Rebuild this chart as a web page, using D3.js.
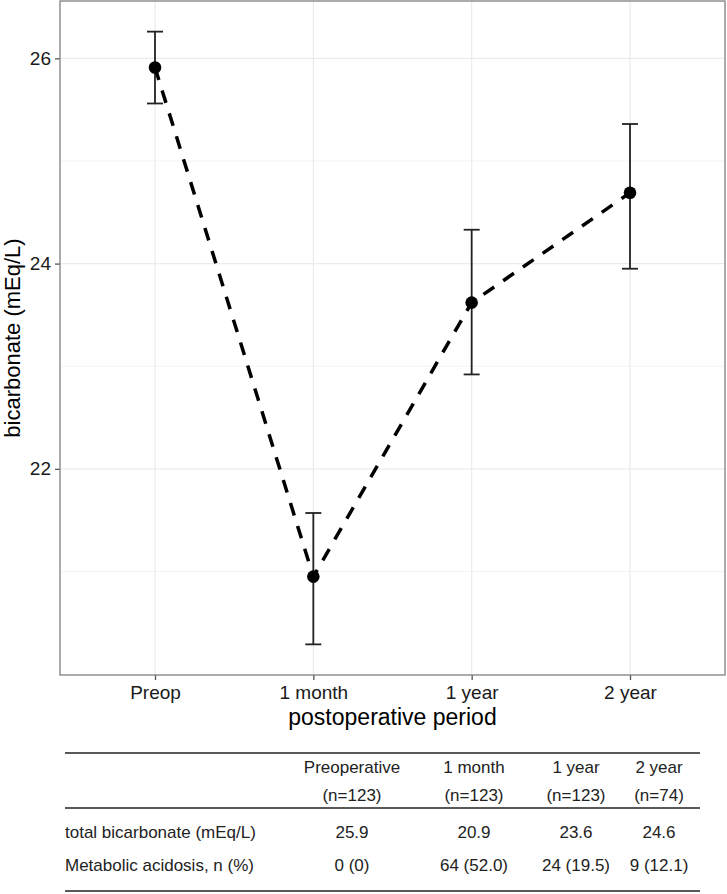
<!DOCTYPE html>
<html>
<head>
<meta charset="utf-8">
<script src="https://cdn.jsdelivr.net/npm/d3@7"></script>
<style>
  html, body { margin: 0; padding: 0; background: #fff; }
  svg { display: block; font-family: "Liberation Sans", Arial, Helvetica, sans-serif; }
</style>
</head>
<body>
<svg id="chart" width="727" height="894"></svg>
<script>
// ---- data ----
const periods = ["Preop", "1 month", "1 year", "2 year"];
const means = [25.91, 20.95, 23.62, 24.69];
const lower = [25.56, 20.29, 22.92, 23.95];
const upper = [26.26, 21.57, 24.33, 25.36];
const majorTicks = [22, 24, 26];
const minorTicks = [21, 23, 25];
const yTitle = "bicarbonate (mEq/L)";
const xTitle = "postoperative period";

const tableHeader1 = ["Preoperative", "1 month", "1 year", "2 year"];
const tableHeader2 = ["(n=123)", "(n=123)", "(n=123)", "(n=74)"];
const rowLabels = ["total bicarbonate (mEq/L)", "Metabolic acidosis, n (%)"];
const rowBicarb = ["25.9", "20.9", "23.6", "24.6"];
const rowAcidosis = ["0 (0)", "64 (52.0)", "24 (19.5)", "9 (12.1)"];

// ---- layout ----
const panel = { left: 60, top: 1, right: 725, bottom: 675 };
const svg = d3.select("#chart");

const x = d3.scalePoint().domain(periods).range([panel.left, panel.right]).padding(0.6);
const lo = d3.min(lower), hi = d3.max(upper), ex = (hi - lo) * 0.05;
const y = d3.scaleLinear().domain([lo - ex, hi + ex]).range([panel.bottom, panel.top]);

const data = periods.map((p, i) => ({ p, m: means[i], lo: lower[i], hi: upper[i] }));

// grid
const grid = svg.append("g");
grid.selectAll("line.minor").data(minorTicks).join("line")
  .attr("x1", panel.left).attr("x2", panel.right)
  .attr("y1", d => y(d)).attr("y2", d => y(d))
  .attr("stroke", "#f4f4f4").attr("stroke-width", 1);
grid.selectAll("line.major").data(majorTicks).join("line")
  .attr("x1", panel.left).attr("x2", panel.right)
  .attr("y1", d => y(d)).attr("y2", d => y(d))
  .attr("stroke", "#ebebeb").attr("stroke-width", 1.2);
grid.selectAll("line.vx").data(periods).join("line")
  .attr("x1", d => x(d)).attr("x2", d => x(d))
  .attr("y1", panel.top).attr("y2", panel.bottom)
  .attr("stroke", "#ebebeb").attr("stroke-width", 1.2);

// axes
const yAxis = d3.axisLeft(y).tickValues(majorTicks).tickSize(5).tickPadding(4).tickFormat(d3.format("d"));
const gy = svg.append("g").attr("transform", `translate(${panel.left},0)`).call(yAxis);
gy.select(".domain").remove();
gy.selectAll(".tick line").attr("stroke", "#555").attr("stroke-width", 1.3);
gy.selectAll(".tick text").attr("fill", "#1a1a1a").style("font-size", "19px")
  .style("font-family", "Liberation Sans, Arial, sans-serif");

const xAxis = d3.axisBottom(x).tickSize(5).tickPadding(6);
const gx = svg.append("g").attr("transform", `translate(0,${panel.bottom})`).call(xAxis);
gx.select(".domain").remove();
gx.selectAll(".tick line").attr("stroke", "#555").attr("stroke-width", 1.3);
gx.selectAll(".tick text").attr("fill", "#1a1a1a").style("font-size", "19px")
  .style("font-family", "Liberation Sans, Arial, sans-serif");

// panel border
svg.append("rect")
  .attr("x", panel.left).attr("y", panel.top)
  .attr("width", panel.right - panel.left).attr("height", panel.bottom - panel.top)
  .attr("fill", "none").attr("stroke", "#7f7f7f").attr("stroke-width", 1.3);

// error bars
const eb = svg.append("g").attr("stroke", "#222").attr("stroke-width", 1.8);
eb.selectAll("line.v").data(data).join("line")
  .attr("x1", d => x(d.p)).attr("x2", d => x(d.p))
  .attr("y1", d => y(d.lo)).attr("y2", d => y(d.hi));
eb.selectAll("line.t").data(data).join("line")
  .attr("x1", d => x(d.p) - 8).attr("x2", d => x(d.p) + 8)
  .attr("y1", d => y(d.hi)).attr("y2", d => y(d.hi));
eb.selectAll("line.b").data(data).join("line")
  .attr("x1", d => x(d.p) - 8).attr("x2", d => x(d.p) + 8)
  .attr("y1", d => y(d.lo)).attr("y2", d => y(d.lo));

// dashed line
const line = d3.line().x(d => x(d.p)).y(d => y(d.m));
svg.append("path").datum(data).attr("d", line)
  .attr("fill", "none").attr("stroke", "#000").attr("stroke-width", 3.5)
  .attr("stroke-dasharray", "13,11");

// points
svg.selectAll("circle.pt").data(data).join("circle")
  .attr("cx", d => x(d.p)).attr("cy", d => y(d.m)).attr("r", 6.3).attr("fill", "#000");

// axis titles
svg.append("text").attr("x", (panel.left + panel.right) / 2).attr("y", 725)
  .attr("text-anchor", "middle").style("font-size", "23px").attr("fill", "#000").text(xTitle);
svg.append("text").attr("transform", `translate(20,${(panel.top + panel.bottom) / 2}) rotate(-90)`)
  .attr("text-anchor", "middle").style("font-size", "22px").attr("fill", "#000").text(yTitle);

// ---- table ----
const colX = [352, 474, 576, 659];
const tbl = svg.append("g").style("font-size", "17px").attr("fill", "#222");
const tLeft = 65, tRight = 700;
[[753, 1.6], [808, 1.3], [891, 1.6]].forEach(([yy, w]) => {
  tbl.append("line").attr("x1", tLeft).attr("x2", tRight).attr("y1", yy).attr("y2", yy)
    .attr("stroke", "#222").attr("stroke-width", w);
});
function row(vals, yy) {
  tbl.selectAll(null).data(vals).join("text")
    .attr("x", (d, i) => colX[i]).attr("y", yy).attr("text-anchor", "middle").text(d => d);
}
row(tableHeader1, 773);
row(tableHeader2, 801);
row(rowBicarb, 838);
row(rowAcidosis, 871);
tbl.append("text").attr("x", tLeft).attr("y", 838).text(rowLabels[0]);
tbl.append("text").attr("x", tLeft).attr("y", 871).text(rowLabels[1]);
</script>
</body>
</html>
